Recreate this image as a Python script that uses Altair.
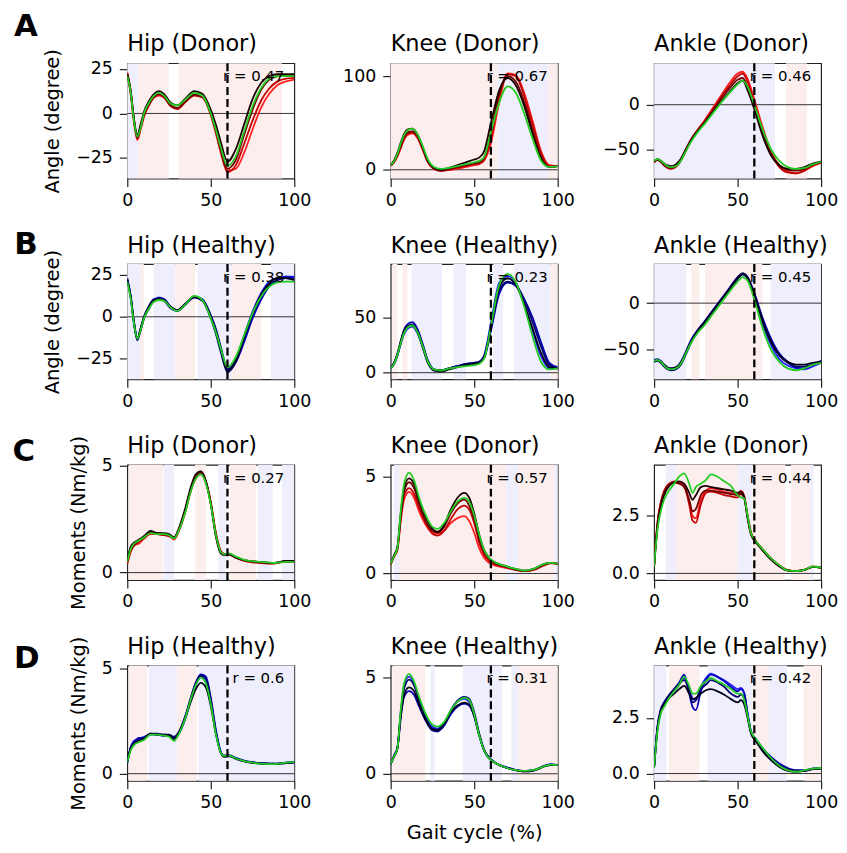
import altair as alt
import pandas as pd

FONT = "DejaVu Sans"
W, H = 168, 116

# ---------------- x grids (gait cycle %) ----------------
X_ANG = [0, 2, 4, 6, 8, 10, 13, 16, 19, 22, 26, 30, 35, 40, 45, 50, 53, 56, 60, 65, 70, 75, 80, 85, 90, 95, 100]
X_HIP_M = [0, 2, 4, 7, 10, 14, 18, 22, 25, 28, 31, 35, 38, 41, 44, 47, 50, 53, 56, 58, 61, 65, 70, 80, 88, 95, 100]
X_KNEE_M = [0, 2, 4, 6, 8, 11, 14, 17, 21, 25, 28, 32, 36, 40, 44, 47, 50, 53, 56, 59, 63, 68, 74, 80, 86, 92, 96, 100]
X_ANK_M = [0, 2, 4, 6, 9, 12, 15, 18, 21, 23, 25, 28, 31, 34, 38, 42, 46, 50, 52, 54, 56, 58, 61, 65, 70, 75, 80, 85, 90, 95, 100]

# ---------------- A: joint angles, donor ----------------
A1_G = [21, 12, -4, -13, -8, 0, 6, 10, 11.5, 10, 5.5, 4.5, 8, 11.5, 10, 0, -9, -19, -29.5, -24, -10, 4, 14, 19.5, 21, 21, 21]
A1_K = [22, 13, -3, -12, -6, 1, 7, 11, 12.5, 11, 6, 4.5, 8.5, 12.5, 11, 2, -6, -16, -27, -20, -6, 8, 17, 21, 22, 22, 22]
A1_D = [22, 12, -4, -14, -8, -1, 5, 9.5, 11, 9.5, 4.5, 3, 7, 10.5, 9.5, 0, -9, -20, -31, -26, -12, 2, 13, 19, 21, 21.5, 21.5]
A1_R = [23, 13, -3, -13, -8, -1, 5, 9, 10.5, 9, 4, 2.5, 6.5, 10, 9, -1, -11, -22, -33, -29, -17, -4, 7, 14, 18, 19.5, 20]
A1_B = [22, 11, -5, -15, -9, -2, 4.5, 9, 10, 9, 4.5, 3, 7, 10.5, 10, 1, -8, -19, -32, -31, -22, -9, 3, 11, 16, 18, 19]

A2_G = [5, 9, 17, 28, 37, 42, 44, 38, 26, 12, 3, 1, 2, 4, 6, 8, 9.5, 14, 40, 72, 89, 82, 60, 33, 10, 3, 4]
A2_K = [5, 10, 18, 29, 38, 43, 44, 38, 25, 11, 2, 0, 2, 5, 8, 11, 13, 20, 50, 85, 98, 90, 68, 38, 12, 3, 4]
A2_D = [5, 9, 16, 26, 35, 40, 41, 36, 24, 10, 2, -1, 1, 3, 5, 7, 8, 13, 40, 82, 100, 94, 72, 42, 14, 3, 4]
A2_R = [5, 8, 15, 24, 33, 38, 40, 35, 23, 9, 1, -1, 0, 2, 4, 6, 7, 11, 33, 78, 102, 100, 78, 48, 18, 4, 4]
A2_B = [4, 8, 14, 23, 32, 37, 39, 34, 22, 9, 1, -1, 0, 1, 3, 5, 6, 10, 28, 72, 103, 101, 82, 52, 20, 5, 4]

A3_G = [-63, -61, -63, -66, -69, -70, -69, -63, -52, -42, -31, -22, -10, 2, 13, 23, 27, 20, 0, -28, -50, -63, -70, -72, -71, -67, -64]
A3_K = [-63, -61, -63, -66, -68, -69, -67, -61, -50, -40, -30, -21, -9, 3, 14, 24, 27, 16, -5, -35, -57, -68, -72, -72, -70, -66, -64]
A3_D = [-64, -62, -64, -68, -70, -71, -69, -62, -51, -40, -29, -20, -7, 6, 18, 28, 30, 20, -2, -32, -55, -68, -73, -74, -72, -67, -64]
A3_R = [-65, -62, -64, -68, -71, -72, -70, -63, -52, -41, -30, -20, -6, 8, 21, 32, 35, 26, 2, -30, -55, -70, -76, -77, -74, -68, -65]
A3_B = [-64, -62, -63, -67, -69, -70, -68, -61, -50, -39, -28, -18, -4, 10, 24, 35, 37, 29, 6, -25, -52, -68, -75, -77, -74, -69, -65]

# ---------------- B: joint angles, healthy ----------------
B1_G = [21, 11, -4, -13, -8, -1, 5, 9, 10, 9.5, 5.5, 3.5, 7.5, 12.5, 10, -1, -9, -19, -30, -24, -11, 2, 12, 18, 20.5, 21, 21]
B1_K = [22, 12, -3, -13, -7, 0, 6, 10, 11, 10, 6, 4, 8, 12, 10, 0, -8, -19, -32, -26, -12, 2, 13, 20, 23, 23, 22]
B1_D = [23, 12, -4, -14, -8, -1, 5, 9.5, 10.5, 9.5, 5, 3.5, 7.5, 11.5, 9.5, -1, -10, -21, -33, -27, -13, 1, 12, 19, 22, 23, 22]
B1_R = [22, 13, -3, -13, -7, 0, 6.5, 10.5, 11, 10.5, 6, 4, 8, 12, 10.5, 1, -7, -18, -31, -27, -15, -1, 10, 18, 22, 24, 23]
B1_B = [22, 12, -4, -13, -8, -1, 5, 10, 11.5, 10.5, 5.5, 3.5, 7.5, 12, 10, 0, -9, -20, -32, -25, -11, 3, 14, 21, 23, 24, 24]

B2_G = [4, 8, 16, 27, 36, 41, 43, 37, 25, 11, 3, 2, 4, 5, 6, 7, 8, 13, 42, 80, 90, 82, 60, 33, 10, 3, 4]
B2_K = [4, 9, 17, 29, 38, 42, 43, 37, 24, 10, 2, 1, 3, 5, 7, 8, 9, 14, 42, 78, 86, 80, 62, 40, 18, 5, 4]
B2_D = [4, 8, 16, 27, 37, 42, 44, 38, 26, 12, 3, 2, 4, 6, 8, 9, 10, 15, 40, 75, 83, 80, 66, 46, 24, 7, 4]
B2_R = [4, 9, 17, 28, 39, 44, 46, 40, 27, 12, 3, 2, 4, 6, 7, 8, 9, 13, 38, 72, 82, 79, 67, 50, 28, 9, 5]
B2_B = [4, 8, 15, 26, 35, 40, 42, 36, 24, 10, 2, 2, 4, 6, 8, 9, 10, 16, 45, 82, 88, 82, 62, 38, 15, 4, 4]

B3_G = [-62, -61, -63, -67, -70, -71, -70, -65, -54, -43, -32, -24, -12, 0, 12, 23, 28, 24, 4, -27, -50, -63, -70, -72, -70, -66, -64]
B3_K = [-62, -61, -63, -66, -69, -70, -69, -64, -53, -42, -30, -21, -9, 3, 15, 27, 32, 27, 8, -20, -42, -56, -63, -66, -66, -64, -63]
B3_D = [-63, -62, -64, -68, -71, -72, -71, -66, -55, -43, -31, -22, -10, 2, 14, 26, 31, 27, 10, -18, -40, -56, -64, -68, -68, -66, -64]
B3_R = [-61, -60, -62, -66, -69, -70, -69, -63, -52, -40, -29, -20, -8, 4, 16, 28, 32, 28, 11, -16, -38, -54, -63, -69, -70, -66, -62]
B3_B = [-62, -61, -63, -67, -70, -71, -70, -65, -54, -42, -31, -22, -10, 2, 14, 26, 31, 26, 7, -22, -45, -60, -67, -70, -71, -68, -64]

# ---------------- C: joint moments, donor ----------------
C1_G = [0.5, 1.1, 1.35, 1.5, 1.65, 1.85, 1.8, 1.8, 1.75, 1.6, 2.0, 2.9, 3.8, 4.4, 4.6, 4.2, 3.2, 1.8, 0.95, 0.85, 0.9, 0.75, 0.6, 0.5, 0.45, 0.5, 0.5]
C1_K = [0.6, 1.2, 1.4, 1.55, 1.7, 1.95, 1.85, 1.85, 1.8, 1.65, 2.1, 3.1, 4.0, 4.6, 4.75, 4.3, 3.2, 1.7, 0.9, 0.82, 0.85, 0.7, 0.58, 0.5, 0.45, 0.55, 0.55]
C1_D = [0.5, 1.15, 1.3, 1.5, 1.7, 1.9, 1.85, 1.8, 1.75, 1.65, 2.05, 3.0, 3.9, 4.5, 4.7, 4.3, 3.3, 1.8, 0.95, 0.85, 0.88, 0.72, 0.58, 0.48, 0.45, 0.52, 0.52]
C1_R = [0.45, 1.0, 1.25, 1.45, 1.6, 1.85, 1.8, 1.75, 1.7, 1.6, 2.0, 2.95, 3.85, 4.45, 4.65, 4.25, 3.25, 1.85, 1.0, 0.85, 0.85, 0.7, 0.55, 0.45, 0.42, 0.55, 0.5]
C1_B = [0.4, 0.95, 1.3, 1.35, 1.6, 1.8, 1.8, 1.8, 1.75, 1.55, 1.95, 2.9, 3.8, 4.4, 4.6, 4.25, 3.3, 1.9, 1.0, 0.88, 0.86, 0.7, 0.56, 0.47, 0.43, 0.52, 0.5]

C2_G = [0.5, 0.9, 1.3, 3.2, 4.6, 5.2, 4.8, 3.9, 3.0, 2.4, 2.3, 2.6, 3.2, 3.7, 3.9, 3.7, 3.0, 2.0, 1.2, 0.8, 0.55, 0.4, 0.25, 0.15, 0.25, 0.5, 0.55, 0.5]
C2_K = [0.5, 0.95, 1.35, 3.1, 4.4, 4.9, 4.6, 3.8, 2.9, 2.3, 2.15, 2.5, 3.3, 3.9, 4.15, 3.9, 3.1, 2.0, 1.2, 0.8, 0.55, 0.4, 0.25, 0.15, 0.25, 0.5, 0.55, 0.5]
C2_D = [0.5, 0.9, 1.3, 2.9, 4.2, 4.7, 4.4, 3.6, 2.7, 2.2, 2.1, 2.4, 3.1, 3.6, 3.8, 3.5, 2.8, 1.8, 1.1, 0.75, 0.5, 0.38, 0.22, 0.12, 0.22, 0.45, 0.55, 0.5]
C2_R = [0.45, 0.9, 1.25, 2.8, 4.0, 4.4, 4.1, 3.4, 2.6, 2.05, 1.95, 2.2, 2.8, 3.3, 3.5, 3.3, 2.6, 1.6, 0.95, 0.65, 0.45, 0.35, 0.2, 0.12, 0.2, 0.45, 0.55, 0.5]
C2_B = [0.45, 0.85, 1.2, 2.7, 3.8, 4.2, 3.9, 3.2, 2.5, 2.1, 2.05, 2.2, 2.6, 2.85, 2.95, 2.7, 2.1, 1.3, 0.8, 0.55, 0.4, 0.3, 0.2, 0.12, 0.2, 0.42, 0.52, 0.5]

C3_G = [0.3, 1.9, 2.7, 3.2, 3.6, 3.9, 4.2, 4.35, 3.9, 3.5, 3.75, 3.9, 4.05, 4.3, 4.2, 4.0, 3.8, 3.4, 3.3, 3.25, 2.5, 1.75, 1.4, 1.05, 0.65, 0.35, 0.13, 0.1, 0.15, 0.3, 0.25]
C3_K = [0.3, 2.0, 2.9, 3.4, 3.8, 3.95, 4.0, 3.9, 3.5, 3.2, 3.4, 3.75, 3.8, 3.75, 3.7, 3.65, 3.6, 3.5, 3.55, 3.3, 2.4, 1.7, 1.35, 1.0, 0.6, 0.3, 0.12, 0.1, 0.15, 0.28, 0.25]
C3_D = [0.3, 2.1, 3.0, 3.5, 3.85, 3.95, 3.9, 3.75, 3.2, 2.7, 2.8, 3.4, 3.6, 3.6, 3.55, 3.5, 3.45, 3.4, 3.45, 3.25, 2.4, 1.7, 1.35, 1.0, 0.62, 0.32, 0.13, 0.1, 0.15, 0.28, 0.25]
C3_R = [0.3, 2.2, 3.1, 3.6, 3.9, 4.0, 3.95, 3.8, 3.0, 2.3, 2.2, 3.0, 3.5, 3.55, 3.5, 3.4, 3.35, 3.3, 3.5, 3.3, 2.5, 1.75, 1.4, 1.05, 0.65, 0.33, 0.14, 0.1, 0.15, 0.28, 0.25]
C3_B = [0.3, 2.2, 3.05, 3.5, 3.85, 3.95, 3.95, 3.85, 3.1, 2.5, 2.4, 3.2, 3.6, 3.7, 3.65, 3.55, 3.5, 3.45, 3.6, 3.35, 2.5, 1.8, 1.4, 1.05, 0.65, 0.35, 0.14, 0.1, 0.15, 0.3, 0.25]

# ---------------- D: joint moments, healthy ----------------
D1_G = [0.55, 1.1, 1.35, 1.5, 1.6, 1.85, 1.85, 1.8, 1.75, 1.55, 1.9, 2.7, 3.5, 4.2, 4.55, 4.3, 3.3, 1.9, 1.0, 0.85, 0.85, 0.72, 0.6, 0.48, 0.45, 0.52, 0.55]
D1_K = [0.55, 1.15, 1.4, 1.55, 1.65, 1.9, 1.85, 1.85, 1.8, 1.65, 1.95, 2.7, 3.4, 4.0, 4.3, 4.1, 3.2, 1.9, 1.0, 0.8, 0.82, 0.7, 0.58, 0.47, 0.45, 0.5, 0.52]
D1_D = [0.6, 1.2, 1.45, 1.6, 1.7, 1.9, 1.9, 1.85, 1.85, 1.75, 2.0, 2.8, 3.6, 4.3, 4.65, 4.5, 3.5, 2.0, 1.0, 0.85, 0.85, 0.72, 0.6, 0.5, 0.47, 0.52, 0.55]
D1_R = [0.55, 1.25, 1.5, 1.7, 1.7, 1.9, 1.85, 1.8, 1.8, 1.7, 1.95, 2.75, 3.55, 4.3, 4.7, 4.6, 3.6, 2.1, 1.05, 0.85, 0.88, 0.75, 0.62, 0.5, 0.47, 0.52, 0.55]
D1_B = [0.5, 1.2, 1.55, 1.65, 1.75, 1.85, 1.85, 1.8, 1.8, 1.65, 1.9, 2.65, 3.45, 4.2, 4.6, 4.45, 3.45, 2.0, 1.0, 0.85, 0.86, 0.73, 0.6, 0.5, 0.46, 0.5, 0.53]

D2_G = [0.5, 0.9, 1.3, 3.3, 4.7, 5.2, 4.8, 4.0, 3.1, 2.55, 2.45, 2.7, 3.3, 3.75, 3.95, 3.85, 3.1, 2.0, 1.2, 0.8, 0.55, 0.35, 0.2, 0.15, 0.2, 0.4, 0.48, 0.45]
D2_K = [0.5, 0.9, 1.3, 3.0, 4.1, 4.5, 4.3, 3.6, 2.8, 2.3, 2.25, 2.6, 3.2, 3.55, 3.7, 3.6, 3.0, 2.0, 1.2, 0.8, 0.55, 0.35, 0.2, 0.12, 0.18, 0.38, 0.45, 0.45]
D2_D = [0.5, 0.95, 1.35, 3.1, 4.4, 4.9, 4.6, 3.8, 2.9, 2.35, 2.3, 2.6, 3.3, 3.8, 4.0, 3.9, 3.2, 2.1, 1.25, 0.85, 0.55, 0.35, 0.2, 0.12, 0.18, 0.4, 0.48, 0.45]
D2_R = [0.5, 0.9, 1.3, 2.9, 4.0, 4.3, 4.1, 3.5, 2.75, 2.25, 2.2, 2.5, 3.1, 3.5, 3.65, 3.55, 3.0, 2.0, 1.2, 0.8, 0.55, 0.35, 0.22, 0.14, 0.2, 0.4, 0.48, 0.45]
D2_B = [0.5, 0.95, 1.35, 3.2, 4.6, 5.05, 4.7, 3.9, 3.0, 2.45, 2.35, 2.65, 3.25, 3.75, 3.9, 3.75, 3.05, 2.0, 1.2, 0.8, 0.55, 0.38, 0.22, 0.14, 0.2, 0.42, 0.5, 0.45]

D3_G = [0.25, 1.9, 2.7, 3.0, 3.4, 3.7, 4.0, 4.35, 3.95, 3.6, 3.6, 3.95, 4.15, 4.3, 4.15, 4.0, 3.8, 3.6, 3.6, 3.3, 2.6, 1.9, 1.55, 1.15, 0.7, 0.35, 0.15, 0.08, 0.15, 0.22, 0.25]
D3_K = [0.25, 2.0, 2.8, 3.1, 3.4, 3.6, 3.8, 3.95, 3.6, 3.35, 3.4, 3.6, 3.75, 3.8, 3.7, 3.55, 3.35, 3.2, 3.3, 3.1, 2.5, 1.8, 1.45, 1.0, 0.6, 0.3, 0.12, 0.08, 0.12, 0.2, 0.22]
D3_D = [0.25, 2.1, 2.9, 3.2, 3.55, 3.8, 4.05, 4.2, 3.7, 3.2, 3.3, 3.8, 4.0, 4.2, 4.1, 3.9, 3.6, 3.45, 3.55, 3.4, 2.6, 1.85, 1.5, 1.1, 0.7, 0.4, 0.2, 0.12, 0.12, 0.2, 0.22]
D3_R = [0.3, 2.1, 2.85, 3.2, 3.5, 3.8, 4.1, 4.45, 3.6, 3.0, 2.85, 3.7, 4.2, 4.45, 4.35, 4.15, 3.9, 3.7, 3.8, 3.6, 2.7, 1.9, 1.5, 1.1, 0.75, 0.45, 0.25, 0.15, 0.15, 0.22, 0.25]
D3_B = [0.3, 2.0, 2.75, 3.1, 3.45, 3.7, 4.0, 4.3, 3.8, 3.4, 3.3, 3.9, 4.3, 4.5, 4.35, 4.2, 4.0, 3.8, 3.85, 3.6, 2.7, 1.9, 1.55, 1.15, 0.72, 0.4, 0.2, 0.12, 0.14, 0.22, 0.25]

# ---------------- background bands (start, end, kind) ----------------
A1_BANDS = [(0, 6.3, "b"), (6.3, 24.8, "r"), (30.7, 92.7, "r")]
A2_BANDS = [(0, 64, "r"), (64, 94, "b"), (94, 100, "r")]
A3_BANDS = [(0, 72.3, "b"), (79, 91.5, "r")]
B1_BANDS = [(0, 7.5, "b"), (7.5, 9.9, "r"), (15.8, 28.7, "b"), (28.7, 40.6, "r"), (42.2, 62.4, "b"), (62.4, 80.2, "r"), (86, 100, "b")]
B2_BANDS = [(1, 4, "r"), (7, 10, "r"), (12.5, 30.7, "b"), (37.6, 45, "b"), (61.4, 67.3, "b"), (73.9, 95.6, "b"), (95.6, 100, "r")]
B3_BANDS = [(0, 19.2, "b"), (22.2, 27.1, "r"), (30.5, 64.8, "r"), (69.7, 100, "b")]
C1_BANDS = [(1, 21.4, "r"), (21.8, 28.1, "b"), (40.6, 47.1, "r"), (54.5, 59.4, "b"), (61.4, 77.2, "r"), (78.2, 87.1, "b"), (92.7, 100, "b")]
C2_BANDS = [(2, 5, "b"), (5, 69.3, "r"), (69.3, 76.2, "b"), (76.2, 98, "r"), (98, 100, "b")]
C3_BANDS = [(6.9, 12.9, "b"), (12.9, 49.9, "r"), (49.9, 58.8, "b"), (58.8, 78.6, "r"), (82, 93.5, "r"), (93.5, 95.5, "b")]
D1_BANDS = [(1, 12, "r"), (12.9, 29.7, "b"), (29.7, 41.6, "r"), (42.6, 100, "b")]
D2_BANDS = [(1, 20.8, "r"), (23.8, 26.3, "b"), (43.2, 66.7, "b"), (72.3, 76.6, "b"), (76.6, 100, "r")]
D3_BANDS = [(0, 7.3, "b"), (8.9, 27.1, "r"), (32, 58.8, "b"), (58.8, 68.7, "r"), (68.7, 79.6, "b"), (89.5, 100, "r")]

TITLES = [["Hip (Donor)", "Knee (Donor)", "Ankle (Donor)"],
          ["Hip (Healthy)", "Knee (Healthy)", "Ankle (Healthy)"],
          ["Hip (Donor)", "Knee (Donor)", "Ankle (Donor)"],
          ["Hip (Healthy)", "Knee (Healthy)", "Ankle (Healthy)"]]
R_TEXT = [["r = 0.47", "r = 0.67", "r = 0.46"],
          ["r = 0.38", "r = 0.23", "r = 0.45"],
          ["r = 0.27", "r = 0.57", "r = 0.44"],
          ["r = 0.6", "r = 0.31", "r = 0.42"]]
Y_DOMAINS = [[[-36.5, 28.2], [-9.3, 113.8], [-82.8, 46.6]],
             [[-37.3, 31.5], [-6, 99], [-81.7, 42]],
             [[-0.35, 5.05], [-0.34, 5.6], [-0.29, 4.72]],
             [[-0.34, 5.12], [-0.37, 5.63], [-0.33, 4.86]]]
Y_TICKS = [[[-25, 0, 25], [0, 100], [-50, 0]],
           [[-25, 0, 25], [0, 50], [-50, 0]],
           [[0, 5], [0, 5], [0, 2.5]],
           [[0, 5], [0, 5], [0, 2.5]]]
X_TICKS = [0, 50, 100]
ROW_YTITLE = ["Angle (degree)", "Angle (degree)", "Moments (Nm/kg)", "Moments (Nm/kg)"]
LETTERS = ["A", "B", "C", "D"]
LETTER_POS = [(-102, -36), (-102, -19), (-104, -13), (-101, -7)]
TITLE_Y = [-12, -11.5, -11.5, -11.5]

XGRID = [[X_ANG, X_ANG, X_ANG], [X_ANG, X_ANG, X_ANG],
         [X_HIP_M, X_KNEE_M, X_ANK_M], [X_HIP_M, X_KNEE_M, X_ANK_M]]
CURVES = [[[A1_B, A1_R, A1_D, A1_K, A1_G], [A2_B, A2_R, A2_D, A2_K, A2_G], [A3_B, A3_R, A3_D, A3_K, A3_G]],
          [[B1_B, B1_R, B1_D, B1_K, B1_G], [B2_B, B2_R, B2_D, B2_K, B2_G], [B3_B, B3_R, B3_D, B3_K, B3_G]],
          [[C1_B, C1_R, C1_D, C1_K, C1_G], [C2_B, C2_R, C2_D, C2_K, C2_G], [C3_B, C3_R, C3_D, C3_K, C3_G]],
          [[D1_B, D1_R, D1_D, D1_K, D1_G], [D2_B, D2_R, D2_D, D2_K, D2_G], [D3_B, D3_R, D3_D, D3_K, D3_G]]]
BANDS = [[A1_BANDS, A2_BANDS, A3_BANDS], [B1_BANDS, B2_BANDS, B3_BANDS],
         [C1_BANDS, C2_BANDS, C3_BANDS], [D1_BANDS, D2_BANDS, D3_BANDS]]
ROW_GROUP = ["donor", "healthy", "donor", "healthy"]

# ---------------- styles ----------------
PALETTE = {
    "donor": ["#ff2020", "#c00000", "#700000", "#1c0000", "#22cc22"],
    "healthy": ["#2424ff", "#0000b8", "#000070", "#00001c", "#22cc22"],
}
BAND_COLORS = {"r": "#fdeeee", "b": "#eeeefd"}


def make_panel(r, c):
    xsc = alt.Scale(domain=[0, 100], nice=False, zero=False)
    ysc = alt.Scale(domain=Y_DOMAINS[r][c], nice=False, zero=False)
    x_title = "Gait cycle (%)" if (r == 3 and c == 1) else None
    y_title = ROW_YTITLE[r] if c == 0 else None
    xax = alt.Axis(values=X_TICKS, format="d", title=x_title)
    yfmt = ".1f" if Y_TICKS[r][c][-1] == 2.5 else "d"
    yax = alt.Axis(values=Y_TICKS[r][c], format=yfmt, title=y_title)

    def X(f):
        return alt.X(f, type="quantitative", scale=xsc, axis=xax)

    def Y(f):
        return alt.Y(f, type="quantitative", scale=ysc, axis=yax)

    layers = []
    bdf = pd.DataFrame(BANDS[r][c], columns=["x0", "x1", "k"])
    bdf["col"] = bdf["k"].map(BAND_COLORS)
    layers.append(
        alt.Chart(bdf).mark_rect(strokeWidth=0).encode(
            x=X("x0"), x2="x1", y=alt.value(0), y2=alt.value(H),
            color=alt.Color("col:N", scale=None),
        )
    )
    zdf = pd.DataFrame({"y": [0]})
    layers.append(alt.Chart(zdf).mark_rule(color="#333333", strokeWidth=1).encode(y=Y("y")))

    xs = XGRID[r][c]
    cols = PALETTE[ROW_GROUP[r]]
    for series, col in zip(CURVES[r][c], cols):
        df = pd.DataFrame({"x": xs, "y": series})
        layers.append(
            alt.Chart(df).mark_line(color=col, strokeWidth=1.8, interpolate="monotone", clip=True)
            .encode(x=X("x"), y=Y("y"))
        )
    vdf = pd.DataFrame({"x": [60]})
    layers.append(
        alt.Chart(vdf).mark_rule(color="black", strokeWidth=2.3, strokeDash=[8, 4]).encode(x=X("x"))
    )
    tdf = pd.DataFrame({"t": [R_TEXT[r][c]]})
    layers.append(
        alt.Chart(tdf).mark_text(align="right", baseline="middle", fontSize=15, font=FONT, color="black")
        .encode(x=alt.value(W - 10), y=alt.value(13), text="t:N")
    )
    # panel title
    hdf = pd.DataFrame({"t": [TITLES[r][c]]})
    layers.append(
        alt.Chart(hdf).mark_text(align="left", baseline="alphabetic", fontSize=22.5, font=FONT, color="black")
        .encode(x=alt.value(0), y=alt.value(TITLE_Y[r]), text="t:N")
    )
    if c == 0:
        ldf = pd.DataFrame({"t": [LETTERS[r]]})
        lx, ly = LETTER_POS[r]
        layers.append(
            alt.Chart(ldf).mark_text(align="center", baseline="middle", fontSize=31, fontWeight="bold",
                                     font=FONT, color="black")
            .encode(x=alt.value(lx), y=alt.value(ly), text="t:N")
        )
    return alt.layer(*layers).properties(width=W, height=H)


panels = [make_panel(r, c) for r in range(4) for c in range(3)]
chart = alt.concat(*panels, columns=3, spacing={"row": 86, "column": 97}, bounds="flush").properties(
    padding={"left": 4, "top": 0, "right": 0, "bottom": 2}
).configure_view(
    stroke="#222222", strokeWidth=1.2
).configure_axis(
    labelFont=FONT, titleFont=FONT, labelFontSize=17.5, titleFontSize=19.5,
    labelColor="black", titleColor="black", tickColor="#222222", tickSize=8, tickWidth=1.2,
    domain=False, grid=False, titleFontWeight="normal", labelFlush=False,
).configure_axisX(
    labelPadding=5, titlePadding=12
).configure_axisY(
    labelPadding=7, titlePadding=13
)

chart.save("out.html", embed_options={"renderer": "svg", "actions": False})
